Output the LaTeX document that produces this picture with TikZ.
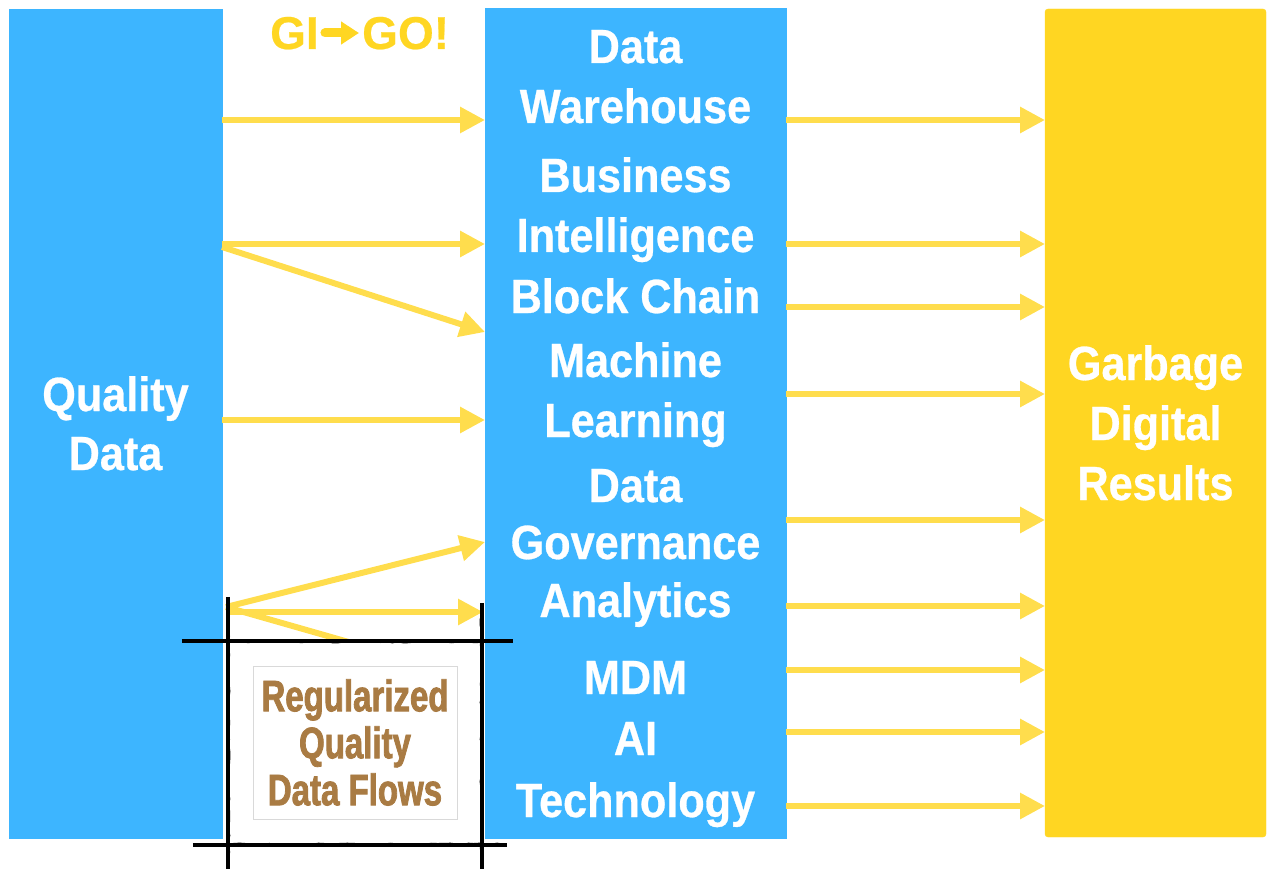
\documentclass[tikz,border=0pt]{standalone}
\usepackage{fontspec}
\usetikzlibrary{arrows.meta,calc,decorations.pathmorphing}
\newfontfamily\lsb[FakeStretch=0.9,FakeBold=0.6]{Liberation Sans}
\newfontfamily\lsr[FakeBold=0.5]{Liberation Sans}
\newfontfamily\lsn[FakeStretch=0.75,FakeBold=1.8]{Liberation Sans}
\definecolor{qblue}{HTML}{3DB5FF}
\definecolor{gyel}{HTML}{FFD622}
\definecolor{arrc}{HTML}{FFDD4D}
\definecolor{brownt}{HTML}{A97B43}
\begin{document}
\begin{tikzpicture}[x=1pt,y=-1pt,
  bbox/.style={fill=qblue, draw=qblue, line width=0.4pt, inner sep=0pt, outer sep=0pt},
  lbl/.style={font=\lsb\bfseries\fontsize{48}{48}\selectfont, text=white, anchor=base, inner sep=0pt},
  gtxt/.style={anchor=base west, inner sep=0pt, text=gyel, font=\lsr\bfseries\fontsize{46}{46}\selectfont},
  arr/.style={draw=arrc, line width=6pt, -{Triangle[length=25pt,width=25pt]}},
  flow/.style={draw=arrc, line width=6pt},
  sk/.style={draw=black, line width=4.5pt},
  rough/.style={draw=black, line width=1.2pt, decorate, decoration={random steps, segment length=6pt, amplitude=0.8pt}}
]
\pgfmathsetseed{7}
\useasboundingbox (0,0) rectangle (1270,869);
% main boxes
\node[bbox, minimum width=213pt, minimum height=829pt] (qd) at (115.5,423.5) {};
\node[bbox, fill=gyel, draw=gyel, rounded corners=3pt, minimum width=221pt, minimum height=828pt] (gdr) at (1155.5,423) {};
% middle column
\node[bbox, minimum width=301pt, minimum height=125pt] (dw) at (635.5,70.5) {};
\node[bbox, minimum width=301pt, minimum height=137pt] (bi) at (635.5,201.5) {};
\node[bbox, minimum width=301pt, minimum height=53pt] (bc) at (635.5,296.5) {};
\node[bbox, minimum width=301pt, minimum height=134pt] (ml) at (635.5,390) {};
\node[bbox, minimum width=301pt, minimum height=123pt] (dg) at (635.5,518.5) {};
\node[bbox, minimum width=301pt, minimum height=58pt] (an) at (635.5,609) {};
\node[bbox, minimum width=301pt, minimum height=64pt] (mdm) at (635.5,670) {};
\node[bbox, minimum width=301pt, minimum height=60pt] (ai) at (635.5,732) {};
\node[bbox, minimum width=301pt, minimum height=76pt] (tech) at (635.5,800) {};
% texts
\node[lbl] (q1) at (115.5,411) {Quality};
\node[lbl] (q2) at (115.5,470) {Data};
\node[lbl] (g1) at (1155.5,380) {Garbage};
\node[lbl] (g2) at (1155.5,440) {Digital};
\node[lbl] (g3) at (1155.5,500) {Results};
\node[lbl] (m1) at (635.5,63) {Data};
\node[lbl] (m2) at (635.5,123) {Warehouse};
\node[lbl] (m3) at (635.5,192) {Business};
\node[lbl] (m4) at (635.5,252) {Intelligence};
\node[lbl] (m5) at (635.5,313) {Block Chain};
\node[lbl] (m6) at (635.5,377) {Machine};
\node[lbl] (m7) at (635.5,437) {Learning};
\node[lbl] (m8) at (635.5,502) {Data};
\node[lbl] (m9) at (635.5,559) {Governance};
\node[lbl] (m10) at (635.5,617) {Analytics};
\node[lbl] (m11) at (635.5,694) {MDM};
\node[lbl] (m12) at (635.5,755) {AI};
\node[lbl] (m13) at (635.5,817) {Technology};
% GI -> GO!
\node[gtxt] (gi) at (270,49) {GI};
\node[gtxt] (go) at (362,49) {GO!};
\draw[draw=gyel, line width=9pt, line cap=round, -{Triangle[length=18pt,width=22pt]}] ($(gi.east |- 0,33)+(6,0)$) -- ($(go.west |- 0,33)+(-3,0)$);
% left arrows
\draw[arr] (qd.east |- 0,120) -- (dw.west |- 0,120);
\draw[arr] (qd.east |- 0,244) -- (bi.west |- 0,244);
\draw[arr] (qd.east |- 0,247) -- (ml.west |- 0,332);
\draw[arr] (qd.east |- 0,420) -- (ml.west |- 0,420);
\coordinate (src) at ($(qd.east |- 0,607)+(4,0)$);
\draw[arr] (src) -- (dg.west |- 0,542);
\draw[arr] ($(qd.east |- 0,612)+(4,0)$) -- ($(an.west |- 0,612)+(-2,0)$);
\coordinate (hid) at (352,643);
\draw[flow] (src) -- (hid);
% right arrows
\foreach \yy/\nm in {120/dw,244/bi,307/bc,394/ml,520/dg,606/an,670/mdm,732/ai,806/tech}
  \draw[arr] (\nm.east |- 0,\yy) -- (gdr.west |- 0,\yy);
% sketched frame
\node[fill=white, inner sep=0pt, minimum width=254pt, minimum height=204pt] (frame) at (355,743) {};
\draw[sk] ($(frame.north west)+(-46,0)$) -- ($(frame.north east)+(31,0)$);
\draw[sk] ($(frame.south west)+(-35,0)$) -- ($(frame.south east)+(25,0)$);
\draw[sk] ($(frame.north west)+(0,-44)$) -- ($(frame.south west)+(0,24)$);
\draw[sk] ($(frame.north east)+(0,-38)$) -- ($(frame.south east)+(0,24)$);
\draw[rough] ($(frame.north west)+(-40,1.2)$) -- ($(frame.north east)+(25,1.2)$);
\draw[rough] ($(frame.south west)+(-30,-1.2)$) -- ($(frame.south east)+(20,-1.2)$);
\draw[rough] ($(frame.north west)+(1.2,-40)$) -- ($(frame.south west)+(1.2,22)$);
\draw[rough] ($(frame.north east)+(-1.2,-34)$) -- ($(frame.south east)+(-1.2,22)$);
\node[draw=black!15, line width=0.6pt, fill=white, inner sep=0pt, minimum width=204pt, minimum height=153pt, align=center, text=brownt, font=\lsn\bfseries\fontsize{44}{47}\selectfont] (rq) at (355,742.5) {Regularized\\Quality\\Data Flows};
\end{tikzpicture}
\end{document}
